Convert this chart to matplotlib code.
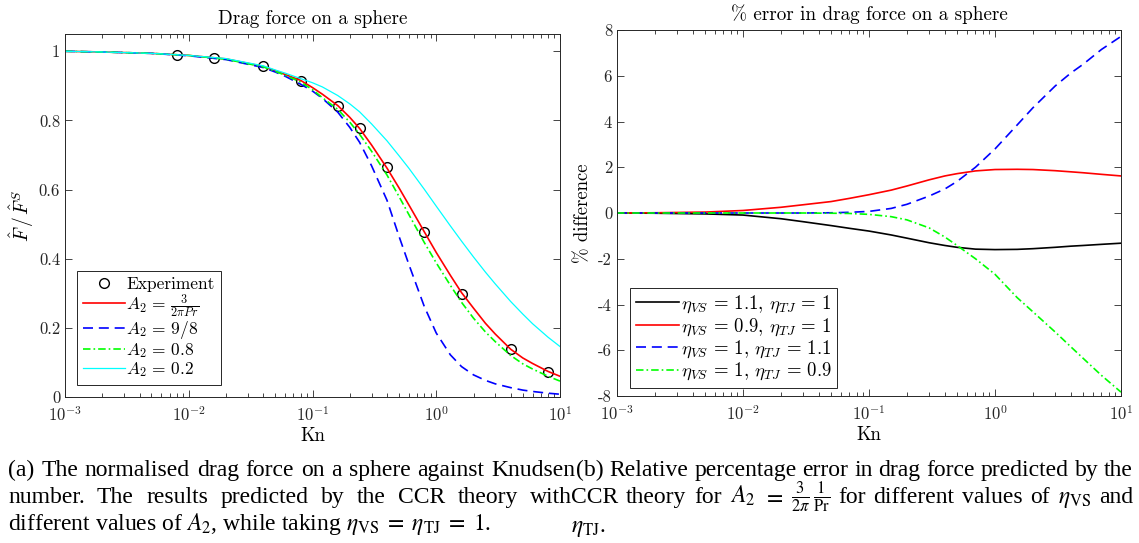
import matplotlib
matplotlib.use('Agg')
import matplotlib.pyplot as plt
from matplotlib.ticker import LogLocator, NullFormatter, FixedLocator, FixedFormatter

plt.rcParams['font.family'] = ['cmr10', 'DejaVu Serif']
plt.rcParams['mathtext.fontset'] = 'cm'
plt.rcParams['axes.unicode_minus'] = False
plt.rcParams['axes.formatter.use_mathtext'] = True

# ---- (a) normalised drag force ----
kn_exp = [0.008, 0.016, 0.04, 0.08, 0.16, 0.24, 0.4, 0.8, 1.6, 4, 8]
f_exp = [0.990, 0.982, 0.957, 0.915, 0.842, 0.777, 0.665, 0.476, 0.298, 0.138, 0.073]

kn_a = [0.001, 0.002, 0.005, 0.01, 0.02, 0.04, 0.05, 0.06, 0.08, 0.1, 0.12, 0.16,
        0.2, 0.24, 0.3, 0.4, 0.5, 0.6, 0.8, 1.0, 1.3, 1.6, 2, 2.5, 3, 4, 5, 6, 8, 10]
f_ccr = [1.0, 0.998, 0.994, 0.988, 0.978, 0.956, 0.944, 0.933, 0.916, 0.895, 0.876, 0.843,
         0.809, 0.777, 0.729, 0.662, 0.605, 0.556, 0.478, 0.418, 0.352, 0.302, 0.257,
         0.213, 0.182, 0.138, 0.113, 0.097, 0.074, 0.060]
f_98 = [1.0, 0.998, 0.994, 0.987, 0.976, 0.953, 0.940, 0.928, 0.905, 0.885, 0.864, 0.824,
        0.780, 0.737, 0.669, 0.569, 0.465, 0.384, 0.262, 0.185, 0.122, 0.088, 0.064,
        0.048, 0.038, 0.027, 0.020, 0.016, 0.011, 0.008]
f_08 = [1.0, 0.998, 0.994, 0.988, 0.977, 0.955, 0.942, 0.931, 0.911, 0.889, 0.866, 0.832,
        0.795, 0.760, 0.711, 0.642, 0.580, 0.528, 0.447, 0.388, 0.323, 0.274, 0.228,
        0.188, 0.160, 0.120, 0.096, 0.081, 0.060, 0.046]
f_02 = [1.0, 0.998, 0.994, 0.988, 0.979, 0.958, 0.946, 0.937, 0.921, 0.909, 0.897, 0.872,
        0.848, 0.825, 0.790, 0.741, 0.698, 0.662, 0.601, 0.552, 0.495, 0.451, 0.405,
        0.361, 0.327, 0.276, 0.240, 0.212, 0.173, 0.146]

labels_a = ['Experiment', r'$A_2\,=\,\frac{3}{2\pi Pr}$', r'$A_2\,=\,9/8$',
            r'$A_2\,=\,0.8$', r'$A_2\,=\,0.2$']

# ---- (b) % error ----
kn_b = [0.001, 0.002, 0.005, 0.01, 0.02, 0.03, 0.05, 0.07, 0.1, 0.15, 0.2, 0.3, 0.4,
        0.5, 0.7, 1, 1.5, 2, 3, 4, 5, 7, 10]
err_vs11 = [0.0, -0.01, -0.04, -0.09, -0.25, -0.38, -0.55, -0.67, -0.79, -0.96, -1.10,
            -1.30, -1.42, -1.50, -1.58, -1.60, -1.59, -1.56, -1.50, -1.45, -1.42, -1.37, -1.32]
err_vs09 = [0.0, 0.01, 0.04, 0.11, 0.25, 0.36, 0.50, 0.64, 0.80, 1.00, 1.18, 1.45, 1.62,
            1.72, 1.84, 1.90, 1.91, 1.90, 1.85, 1.80, 1.76, 1.69, 1.62]
err_tj11 = [0.0, 0.0, 0.0, 0.0, 0.0, 0.0, 0.01, 0.03, 0.07, 0.20, 0.38, 0.74, 1.05,
            1.38, 2.0, 2.8, 3.85, 4.6, 5.55, 6.12, 6.5, 7.15, 7.72]
err_tj09 = [0.0, 0.0, 0.0, 0.0, 0.0, 0.0, -0.01, -0.02, -0.06, -0.16, -0.30, -0.65, -1.05,
            -1.42, -2.0, -2.68, -3.7, -4.32, -5.2, -5.85, -6.35, -7.1, -7.83]

labels_b = [r'$\eta_{VS}\,=\,1.1$, $\eta_{TJ}\,=\,1$', r'$\eta_{VS}\,=\,0.9$, $\eta_{TJ}\,=\,1$',
            r'$\eta_{VS}\,=\,1$, $\eta_{TJ}\,=\,1.1$', r'$\eta_{VS}\,=\,1$, $\eta_{TJ}\,=\,0.9$']

W, H = 1139, 543
fig = plt.figure(figsize=(W / 100, H / 100), dpi=100)
gray = '#262626'


def style_axes(ax):
    ax.set_xscale('log')
    ax.set_xlim(1e-3, 10)
    ax.xaxis.set_major_locator(LogLocator(base=10, numticks=10))
    ax.xaxis.set_minor_locator(LogLocator(base=10, subs=range(2, 10), numticks=20))
    ax.xaxis.set_minor_formatter(NullFormatter())
    ax.tick_params(which='both', direction='in', top=True, right=True,
                   colors=gray, labelsize=12, width=0.6)
    ax.tick_params(which='major', length=5)
    ax.tick_params(which='minor', length=3)
    ax.tick_params(axis='x', which='major', pad=6)
    for s in ax.spines.values():
        s.set_color(gray)
        s.set_linewidth(0.7)
    ax.set_xlabel('Kn', fontsize=13.5, labelpad=2)


def style_legend(leg):
    leg.get_frame().set_edgecolor(gray)
    leg.get_frame().set_linewidth(0.7)


# left panel
ax1 = fig.add_axes([65 / W, (H - 397) / H, 495 / W, 363 / H])
h0, = ax1.plot(kn_exp, f_exp, 'o', mfc='none', mec='k', ms=7, mew=1.0, ls='none')
h1, = ax1.plot(kn_a, f_ccr, color='#ff0000', lw=1.2)
h2, = ax1.plot(kn_a, f_98, color='#0000ff', lw=1.2, dashes=[6, 3.5])
h3, = ax1.plot(kn_a, f_08, color='#00ff00', lw=1.2, dashes=[4.5, 1.8, 1, 1.8])
h4, = ax1.plot(kn_a, f_02, color='#00ffff', lw=0.9)
style_axes(ax1)
ax1.set_ylim(0, 1.05)
ax1.yaxis.set_major_locator(FixedLocator([0, 0.2, 0.4, 0.6, 0.8, 1]))
ax1.yaxis.set_major_formatter(FixedFormatter(['0', '0.2', '0.4', '0.6', '0.8', '1']))
ax1.set_ylabel(r'$\hat{F}\,/\,\hat{F}^S$', fontsize=14, labelpad=2)
ax1.set_title('Drag force on a sphere', fontsize=13.8, pad=7)
leg1 = ax1.legend([h0, h1, h2, h3, h4], labels_a, loc='lower left',
                  bbox_to_anchor=(0.024, 0.033), borderaxespad=0, fontsize=12.5,
                  handlelength=2.4, handletextpad=0.1, labelspacing=0.0,
                  borderpad=0.35, fancybox=False, framealpha=1)
style_legend(leg1)

# right panel
ax2 = fig.add_axes([617 / W, (H - 396) / H, 504 / W, 366 / H])
g1, = ax2.plot(kn_b, err_vs11, color='k', lw=1.2)
g2, = ax2.plot(kn_b, err_vs09, color='#ff0000', lw=1.2)
g3, = ax2.plot(kn_b, err_tj11, color='#0000ff', lw=1.2, dashes=[6, 3.5])
g4, = ax2.plot(kn_b, err_tj09, color='#00ff00', lw=1.2, dashes=[4.5, 1.8, 1, 1.8])
style_axes(ax2)
ax2.set_ylim(-8, 8)
yt = [-8, -6, -4, -2, 0, 2, 4, 6, 8]
ax2.yaxis.set_major_locator(FixedLocator(yt))
ax2.yaxis.set_major_formatter(FixedFormatter([str(v) for v in yt]))
ax2.set_ylabel('% difference', fontsize=13.5, labelpad=4)
ax2.set_title('% error in drag force on a sphere', fontsize=13.8, pad=7)
leg2 = ax2.legend([g1, g2, g3, g4], labels_b, loc='lower left',
                  bbox_to_anchor=(0.026, 0.022), borderaxespad=0, fontsize=13.5,
                  handlelength=2.3, handletextpad=0.1, labelspacing=0.05,
                  borderpad=0.3, fancybox=False, framealpha=1)
style_legend(leg2)

# ---- captions ----
cap_kw = dict(fontsize=17, family='Liberation Serif', math_fontfamily='stix',
              va='baseline', ha='left', color='k')
renderer = fig.canvas.get_renderer()


def put_line(words, x0, x1, y, justify=True):
    ts = [fig.text(0, 1 - y / H, w, **cap_kw) for w in words]
    widths = [t.get_window_extent(renderer).width for t in ts]
    gap = (x1 - x0 - sum(widths)) / (len(ts) - 1) if justify else 5
    x = x0
    for t, w in zip(ts, widths):
        t.set_x(x / W)
        x += w + gap


put_line('(a) The normalised drag force on a sphere against Knudsen'.split(), 8, 575, 476)
put_line('number. The results predicted by the CCR theory with'.split(), 8, 572, 503)
fig.text(8 / W, 1 - 530 / H,
         r'different values of $A_2$, while taking '
         r'$\eta_{\mathrm{VS}}\;=\;\eta_{\mathrm{TJ}}\;=\;1$.',
         **cap_kw)
put_line('(b) Relative percentage error in drag force predicted by the'.split(), 576, 1133, 476)
put_line(['CCR', 'theory', 'for', r'$A_2$', r'$=$', r'$\frac{3}{2\pi}\,\frac{1}{\mathrm{Pr}}$',
          'for', 'different', 'values', 'of', r'$\eta_{\mathrm{VS}}$', 'and'], 571, 1133, 503)
fig.text(571 / W, 1 - 532 / H, r'$\eta_{\mathrm{TJ}}$.', **cap_kw)

fig.savefig('out.png', dpi=100)
